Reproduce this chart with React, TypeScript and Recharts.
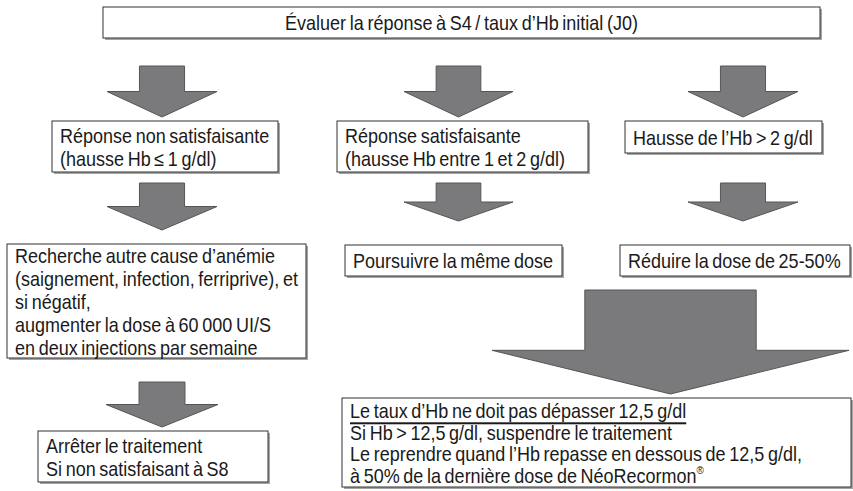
import React from 'react';
import { ComposedChart, XAxis, YAxis, ReferenceArea, Scatter } from 'recharts';

// text of each box, one entry per line
const boxLines: string[][] = [
    ['Évaluer la réponse à S4 / taux d’Hb initial (J0)'],
    ['Réponse non satisfaisante', '(hausse Hb ≤ 1 g/dl)'],
    ['Réponse satisfaisante', '(hausse Hb entre 1 et 2 g/dl)'],
    ['Hausse de l’Hb > 2 g/dl'],
    [
        'Recherche autre cause d’anémie',
        '(saignement, infection, ferriprive), et',
        'si négatif,',
        'augmenter la dose à 60 000 UI/S',
        'en deux injections par semaine',
    ],
    ['Poursuivre la même dose'],
    ['Réduire la dose de 25-50%'],
    ['Arrêter le traitement', 'Si non satisfaisant à S8'],
    [
        'Le taux d’Hb ne doit pas dépasser 12,5 g/dl',
        'Si Hb > 12,5 g/dl, suspendre le traitement',
        'Le reprendre quand l’Hb repasse en dessous de 12,5 g/dl,',
        'à 50% de la dernière dose de NéoRecormon®',
    ],
];

// box extents in diagram units [x1, x2, y1, y2]
const boxFrames: number[][] = [
    [103, 820, 7, 38],
    [52, 278, 121, 172],
    [337, 588, 121, 172],
    [625, 822, 121, 153],
    [7, 306, 244, 358],
    [345, 562, 245, 276],
    [620, 850, 245, 276],
    [38, 268, 431, 482],
    [342, 851, 398, 487],
];

// arrow extents in diagram units [x1, x2, y1, y2]
const arrowFrames: number[][] = [
    [107, 217, 66, 117],
    [404, 513, 66, 117],
    [688, 798, 66, 117],
    [107, 217, 183, 230],
    [404, 513, 183, 221],
    [688, 798, 183, 221],
    [492, 849, 290, 394],
    [106, 218, 382, 427],
];

const W = 853;
const H = 491;
const FONT = "'Liberation Sans', Arial, sans-serif";
const SQUEEZE = 0.9;

const centers = boxFrames.map((f) => ({ x: (f[0] + f[1]) / 2, y: (f[2] + f[3]) / 2 }));

function renderBox(i: number) {
    const lines = boxLines[i];
    const centered = i === 0;
    const lineH = i === 8 ? 21.5 : 23;
    return (props: any) => {
        const { x, y, width, height } = props;
        const mid = y + height / 2;
        const startY = mid - ((lines.length - 1) * lineH) / 2;
        const tx = centered ? x + width / 2 : x + 8;
        return (
            <g>
                <rect x={x + 2} y={y + 2} width={width} height={height} fill="#a5a5a5" />
                <rect x={x} y={y} width={width} height={height} fill="#fff" stroke="#333" strokeWidth={1} />
                {lines.map((ln, k) => {
                    const reg = ln.endsWith('®');
                    const ty = startY + k * lineH + 1;
                    return (
                        <text
                            key={k}
                            transform={`translate(${tx} ${ty}) scale(${SQUEEZE} 1)`}
                            x={0}
                            y={0}
                            dominantBaseline="central"
                            textAnchor={centered ? 'middle' : 'start'}
                            fontFamily={FONT}
                            fontSize={20}
                            wordSpacing={-1.5}
                            fill="#1a1a1a"
                            textDecoration={i === 8 && k === 0 ? 'underline' : undefined}
                        >
                            {reg ? ln.slice(0, -1) : ln}
                            {reg && (
                                <tspan fontSize={11} dy={-6}>
                                    ®
                                </tspan>
                            )}
                        </text>
                    );
                })}
            </g>
        );
    };
}

function renderArrow(i: number) {
    const big = i === 6;
    const shaft = big ? 0.48 : 0.41;
    const head = big ? 0.42 : 0.5;
    return (props: any) => {
        const { x, y, width, height } = props;
        const cx = x + width / 2;
        const sw = (width * shaft) / 2;
        const hy = y + height * (1 - head);
        const pts = [
            [cx - sw, y],
            [cx + sw, y],
            [cx + sw, hy],
            [x + width, hy],
            [cx, y + height],
            [x, hy],
            [cx - sw, hy],
        ]
            .map((p) => p.join(','))
            .join(' ');
        return <polygon points={pts} fill="#7a7a7c" stroke="#555" strokeWidth={1} />;
    };
}

export default function App() {
    return (
        <div style={{ position: 'absolute', left: 0, top: 0, width: W, height: H, background: '#fff' }}>
            <ComposedChart width={W} height={H} margin={{ top: 0, right: 0, bottom: 0, left: 0 }}>
                <XAxis type="number" dataKey="x" domain={[0, W]} hide allowDataOverflow />
                <YAxis type="number" dataKey="y" domain={[0, H]} reversed hide allowDataOverflow />
                <Scatter data={centers} isAnimationActive={false} shape={() => <g />} />
                {arrowFrames.map((f, i) => (
                    <ReferenceArea
                        key={'a' + i}
                        x1={f[0]}
                        x2={f[1]}
                        y1={f[2]}
                        y2={f[3]}
                        ifOverflow="visible"
                        shape={renderArrow(i)}
                    />
                ))}
                {boxFrames.map((f, i) => (
                    <ReferenceArea
                        key={'b' + i}
                        x1={f[0]}
                        x2={f[1]}
                        y1={f[2]}
                        y2={f[3]}
                        ifOverflow="visible"
                        shape={renderBox(i)}
                    />
                ))}
            </ComposedChart>
        </div>
    );
}
